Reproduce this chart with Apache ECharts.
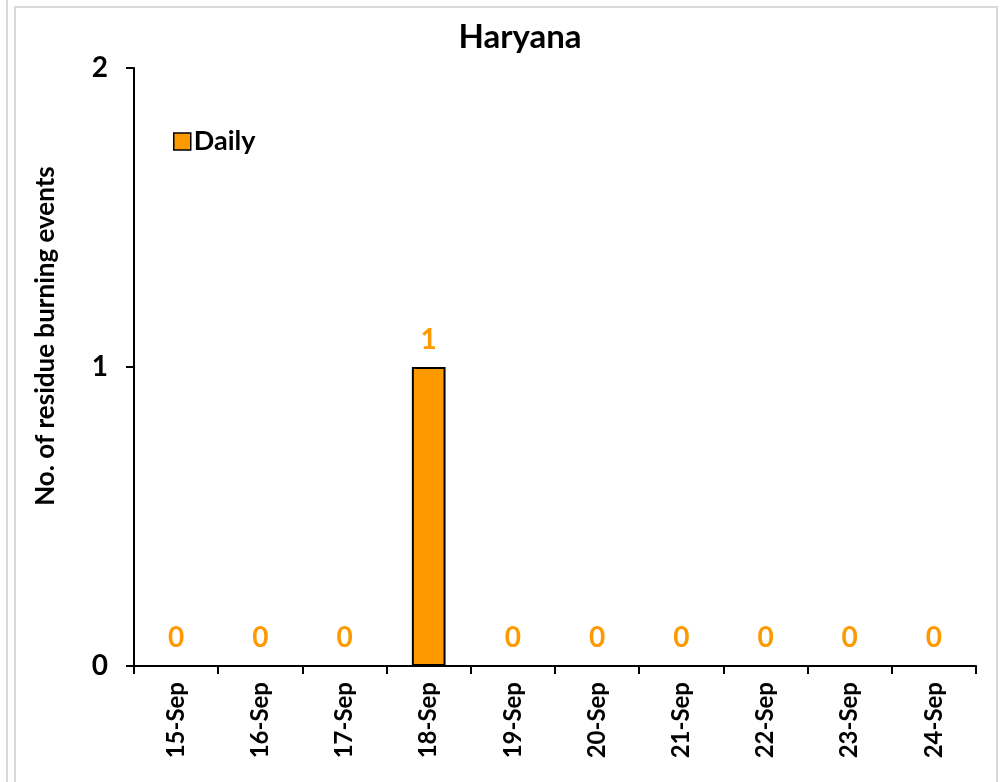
<!DOCTYPE html>
<html>
<head>
<meta charset="utf-8">
<script src="https://cdn.jsdelivr.net/npm/echarts@6/dist/echarts.min.js"></script>
<style>
  html, body { margin: 0; padding: 0; background: #fff; }
  #chart { width: 1000px; height: 782px; }
</style>
</head>
<body>
<div id="chart"></div>
<script>
// data
const categories = ["15-Sep", "16-Sep", "17-Sep", "18-Sep", "19-Sep", "20-Sep", "21-Sep", "22-Sep", "23-Sep", "24-Sep"];
const dailyValues = [0, 0, 0, 1, 0, 0, 0, 0, 0, 0];
const yTicks = [0, 1, 2];

const font = "Lato, 'Open Sans', sans-serif";
const myChart = echarts.init(document.getElementById("chart"), null, { renderer: "canvas" });

const option = {
  backgroundColor: "#fff",
  animation: false,
  title: {
    text: "Haryana",
    left: 515,
    textAlign: "center",
    top: 16,
    textStyle: { fontFamily: font, fontWeight: "bold", fontSize: 33, color: "#000" }
  },
  legend: {
    left: 168,
    top: 123,
    icon: "rect",
    itemWidth: 17,
    itemHeight: 17,
    itemGap: 6,
    selectedMode: false,
    data: ["Daily"],
    itemStyle: { borderColor: "#000", borderWidth: 1.5 },
    textStyle: { fontFamily: font, fontWeight: "bold", fontSize: 27, color: "#000", padding: [0, 0, 0, -2] }
  },
  graphic: [
    { type: "line", shape: { x1: 7, y1: 0, x2: 7, y2: 782 }, style: { stroke: "#d9d9d9", lineWidth: 2 }, silent: true },
    { type: "rect", shape: { x: 15, y: 7, width: 982, height: 800 }, style: { fill: "none", stroke: "#d9d9d9", lineWidth: 2 }, silent: true }
  ],
  grid: { left: 134, right: 24, top: 68, bottom: 116, containLabel: false },
  xAxis: {
    type: "category",
    data: categories,
    axisLine: { lineStyle: { color: "#000", width: 2 } },
    axisTick: { show: true, length: 8, alignWithLabel: false, lineStyle: { color: "#000", width: 2 } },
    axisLabel: {
      rotate: 90,
      margin: 16,
      interval: 0,
      fontFamily: font,
      fontWeight: "bold",
      fontSize: 24,
      color: "#000"
    }
  },
  yAxis: {
    type: "value",
    min: yTicks[0],
    max: yTicks[yTicks.length - 1],
    interval: 1,
    name: "No. of residue burning events",
    nameLocation: "middle",
    nameGap: 75,
    nameRotate: 90,
    nameTextStyle: { fontFamily: font, fontWeight: "bold", fontSize: 26, color: "#000", padding: [0, 0, 0, 62] },
    splitLine: { show: false },
    axisLine: { show: true, lineStyle: { color: "#000", width: 2 } },
    axisTick: { show: true, length: 8, lineStyle: { color: "#000", width: 2 } },
    axisLabel: { margin: 26, fontFamily: font, fontWeight: "bold", fontSize: 28, color: "#000" }
  },
  series: [
    {
      name: "Daily",
      type: "bar",
      data: dailyValues,
      barWidth: "40%",
      itemStyle: { color: "#FF9900", borderColor: "#000", borderWidth: 2 },
      label: {
        show: true,
        position: "top",
        distance: 13,
        fontFamily: font,
        fontWeight: "bold",
        fontSize: 28,
        color: "#FF9900"
      }
    }
  ]
};

myChart.setOption(option);
</script>
</body>
</html>
